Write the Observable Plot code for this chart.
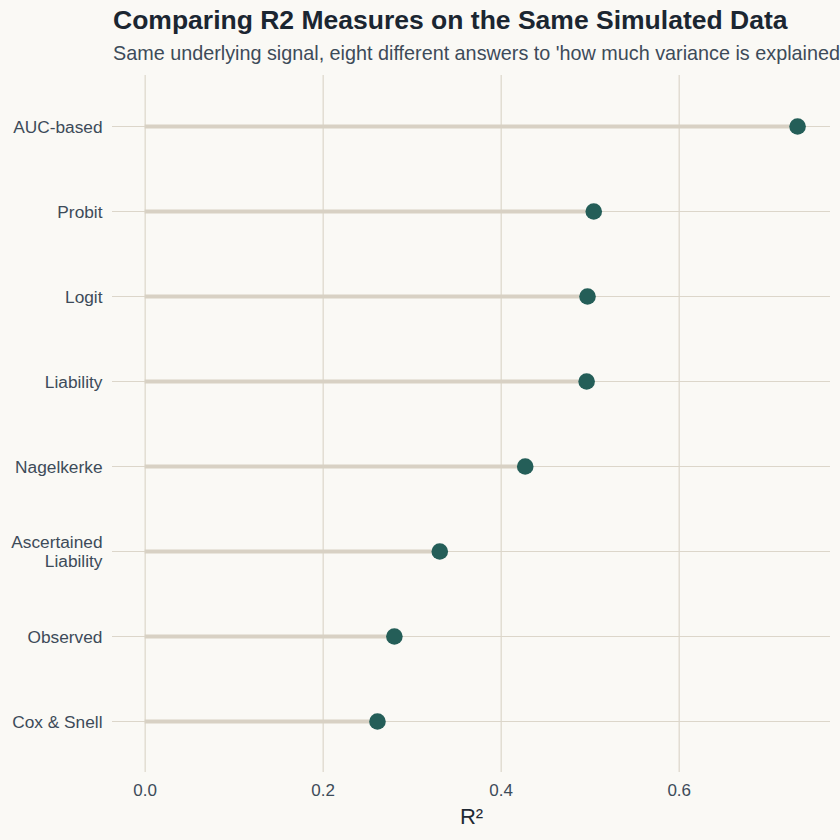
<!DOCTYPE html>
<html>
<head>
<meta charset="utf-8">
<script src="https://cdn.jsdelivr.net/npm/d3@7"></script>
<script src="https://cdn.jsdelivr.net/npm/@observablehq/plot@0.6"></script>
<style>
  html, body { margin:0; padding:0; background:#faf9f5; overflow:hidden; }
  body { width:840px; height:840px; font-family:"Liberation Sans", Arial, Helvetica, sans-serif; }
  #header { position:relative; height:75px; width:840px; overflow:hidden; }
  #title { position:absolute; left:113px; top:7px; font-size:26.5px; line-height:26px; font-weight:bold; color:#1b2631; white-space:nowrap; }
  #subtitle { position:absolute; left:113px; top:44px; font-size:19.8px; line-height:19.8px; color:#3d4b59; white-space:nowrap; }
  svg [aria-label="x-axis label"] text, svg [aria-label="x-axis label"] { font-size:22px; fill:#1f2933; }
</style>
</head>
<body>
<div id="header">
  <div id="title">Comparing R2 Measures on the Same Simulated Data</div>
  <div id="subtitle">Same underlying signal, eight different answers to 'how much variance is explained?'</div>
</div>
<div id="chart"></div>
<script>
const measures = ["AUC-based", "Probit", "Logit", "Liability", "Nagelkerke", "Ascertained\nLiability", "Observed", "Cox & Snell"];
const r2 = [0.733, 0.504, 0.497, 0.496, 0.427, 0.331, 0.280, 0.261];
const xTicks = [0, 0.2, 0.4, 0.6];

const data = measures.map((m, i) => ({measure: m, value: r2[i]}));

const gridColor = "#dcd6ca";
const textColor = "#3d4b59";

const chart = Plot.plot({
  width: 840,
  height: 765,
  marginTop: 0,
  marginBottom: 68,
  marginLeft: 112,
  marginRight: 10,
  style: {background: "transparent", fontFamily: "'Liberation Sans', Arial, Helvetica, sans-serif"},
  x: {domain: [-0.0367, 0.770], ticks: xTicks},
  y: {type: "point", domain: measures, padding: 0.6},
  marks: [
    Plot.gridX(xTicks, {stroke: gridColor, strokeOpacity: 1, strokeWidth: 1.2}),
    Plot.gridY(measures, {stroke: gridColor, strokeOpacity: 1, strokeWidth: 1.2}),
    Plot.ruleY(data, {y: "measure", x1: 0, x2: "value", stroke: "#d8d1c4", strokeWidth: 4}),
    Plot.dot(data, {x: "value", y: "measure", r: 8.3, fill: "#245e58"}),
    Plot.axisX(xTicks, {tickSize: 0, tickPadding: 11, tickFormat: d3.format(".1f"), fontSize: 17, fill: textColor,
      label: "R²", labelAnchor: "center", labelArrow: "none", labelOffset: 51}),
    Plot.axisY({tickSize: 0, tickPadding: 10, fontSize: 17.3, fill: textColor, label: null, lineHeight: 1.1})
  ]
});
document.getElementById("chart").appendChild(chart);
</script>
</body>
</html>
